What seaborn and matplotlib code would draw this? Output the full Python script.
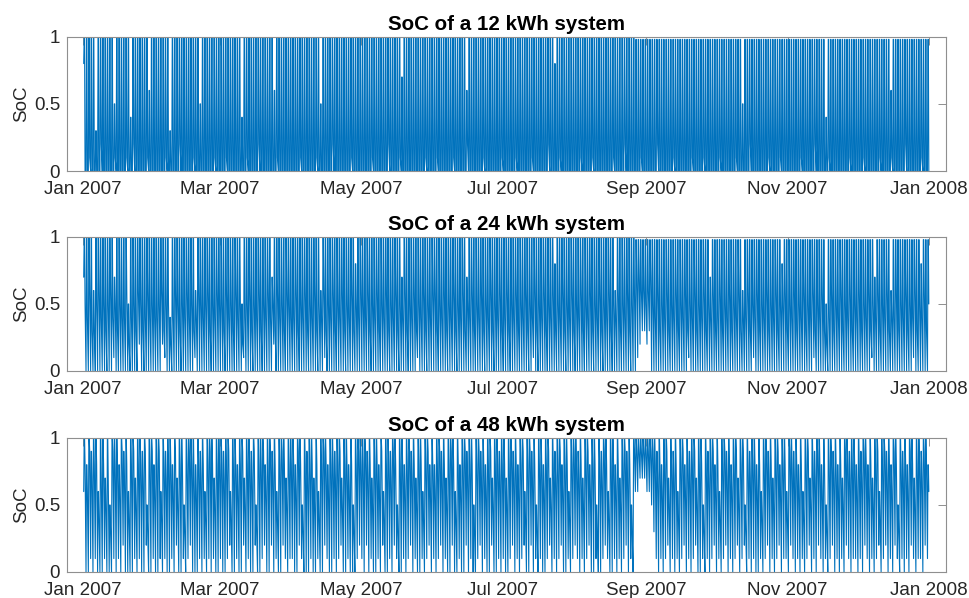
import numpy as np
import pandas as pd
import matplotlib
matplotlib.use("Agg")
import matplotlib.pyplot as plt
import matplotlib.dates as mdates
import seaborn as sns

# Daily battery state of charge for 2007, one character per day, one string per month.
# '0'..'9' -> 0.0 .. 0.9, 'E' -> 0.98, 'F' -> 1.0
#   peak    : level reached by midday and held into the afternoon
#   evening : level at 21:00
#   morning : level at 07:00, before charging starts

peak_12 = [
    "FFFFF3FFFF FFF5FFFFFF 4FFFFFFF6F F",
    "FFFFFF3FFF FFFFFFFFF5 FFFFFFFF",
    "FFFFFFFFF4 FFFFFFFFFF FFF6FFFFFF F",
    "FFFFFFFFFF FF5FFFFFFF FFFFFFFFFF",
    "FFFFFFFFFF FFFFFFF7FF FFFFFFFFFF F",
    "FFFFFFFFFF FFFF6FFFFF FFFFFFFFFF",
    "FFFFFFFFFF FFFFFFFFFF FF8FFFFFFF F",
    "FFFFFFFFFF FFFFFFFFFF FFFFFFEEEE E",
    "EEEEEEEEEE EEEEEEEEEE EEEEEEEEEE",
    "EEEEEEEEEE E5EEEEEEEE EEEEEEEEEE E",
    "EEEEEEEEEE EEEEEE4EEE EEEEEEEEEE",
    "EEEEEEEEEE EEEE6EEEEE EEEEEEEEEE E",
]
evening_12 = [
    "0010000200 0001000010 0200000100 0",
    "0000100000 2000001000 00000100",
    "0010000000 0100002000 0000100000 0",
    "0001000000 1000000200 0000010000",
    "0000100000 0200001000 0000000100 0",
    "0100000010 0000200000 0100000001",
    "0000010000 0010000002 0000100000 0",
    "0010000100 0000001000 0200000010 0",
    "0000200000 0100000001 0000100000",
    "0100000010 0000200000 0010000100 0",
    "0000010000 0200000100 0000001000",
    "0010000001 0000100000 2000000100 0",
]
morning_12 = [
    "8000000000 0000000000 0000000000 0",
    "0000000000 0000000000 00000000",
    "0000000000 0000000000 0000000000 0",
    "0000000000 0000000000 0000000000",
    "0000000000 0000000000 0000000000 0",
    "0000000000 0000000000 0000000000",
    "0000000000 0000000000 0000000000 0",
    "0000000000 0000000000 0000000000 0",
    "0000000000 0000000000 0000000000",
    "0000000000 0000000000 0000000000 0",
    "0000000000 0000000000 0000000000",
    "0000000000 0000000000 0000000000 0",
]

peak_24 = [
    "FFFF6FFFFF FFF7FFFFF5 FFFFFFFFFF F",
    "FFFFFF4FFF FFFFFFF6FF FFFFFFFF",
    "FFFFFFFFF5 FFFFFFFFFF FF7FFFFFFF F",
    "FFFFFFFFFF FF6FFFFFFF FFFFFFF8FF",
    "FFFFFFFFFF FFFFFFF7FF FFFFFFFFFF F",
    "FFFFFFFFFF FFFF7FFFFF FFFFFFFFFF",
    "FFFFFFFFFF FFFFFFFFFF FF8FFFFFFF F",
    "FFFFFFFFFF FFFFFFF6FF FFFFFFEEEE E",
    "EEEEEEEEEE EEEEEEEEEE EEEEEEE7EE",
    "EEEEEEEEEE E6EEEEEEEE EEEEEEEE8E E",
    "EEEEEEEEEE EEEEEE5EEE EEEEEEEEEE",
    "EEEEEEE7EE EEEE6EEEEE EEEEEEE8EE E",
]
evening_24 = [
    "5463356453 5645354462 4536534645 4",
    "4563552465 3546453465 45635465",
    "5364536452 4563546354 6453645365 4",
    "4635463546 3546354635 4635463546",
    "5463546354 6354635463 5463546354 6",
    "6354635463 5463546354 6354635463",
    "4635463546 3546354635 4635463546 3",
    "5463546354 6354635463 5463567766 5",
    "6754635463 5463546354 6354635463",
    "4635463546 3446354635 4635463556 3",
    "5463546354 6354632463 5463546354",
    "6354635463 5463446354 6354635463 5",
]
morning_24 = [
    "7000000000 0001000000 0000200000 0",
    "0002100000 0000000100 00000000",
    "0000000000 1000000000 0002000000 0",
    "0000000000 0000100000 0000000000",
    "0000000000 0000000000 0000100000 0",
    "0000000000 0000000000 0000000000",
    "0000000000 0001000000 0000000000 0",
    "0000000000 0000000000 0000000123 3",
    "2300000000 0000000010 0000000000",
    "0000000000 0000001000 0000000000 0",
    "0000000000 0100000000 0000000000",
    "0000001000 0000000000 0000100000 0",
]

peak_48 = [
    "F8F9FF6FF7 F5FFF8F9F6 FF7FF9F5FF 8",
    "FF6F9FF8F7 FF5FFFF8F9 F6FFF7FF",
    "F9FF6FF8FF 7FF9F5FFF8 FF9F6FFF7F F",
    "F8FF5F9FF7 F6FFF8FF9F F7FF8F5FFF",
    "FF9F7FF8F6 FF9FF5FF8F F9F7FF6FF8 F",
    "8FF9F7FFF6 F8FF9FF5FF 9F8FF7FF9F",
    "F7FF9F8FF6 FF9F5FF8FF 7F9FF8FF6F F",
    "F9F7FF8FF5 F9FF6FF8F7 FF9F5FFFFF F",
    "FFFF9F8FF7 F9F6FF8F9F F7FF5F9FF8",
    "F6FF9F8FF7 FF5F9FF8F6 FF9F7FF8FF 6",
    "FF9F8F6FF7 F9FF8F5FF9 F8F7FF9FF8",
    "F9FF8F7FF6 FF9F8FF5F9 F8FF7FF9FF 8",
]
evening_48 = [
    "8697884785 7398869784 8958879389 6",
    "8948788695 8838987687 84898588",
    "8789488689 5887938896 8978489858 8",
    "8698387885 8489868878 9588683898",
    "8978588694 8879838868 9785884896 8",
    "6897858984 8689788389 7868958878",
    "8589786894 8978388689 5878968848 9",
    "8785896883 8798488685 8978399999 9",
    "9998786895 8784896878 9588387896",
    "8489786895 8938788684 8978589688 4",
    "9878684895 8798683897 8685987886",
    "8798685894 8978698387 8698588798 6",
]
morning_48 = [
    "6001010001 0001010200 0010100200 1",
    "0010100102 0010120001 01010100",
    "1001200100 2010020012 0020100210 1",
    "1002100010 0100210010 1200100012",
    "1020100102 0010210010 1201001012 0",
    "1012010020 0100201001 2010020010",
    "1001201012 0020101001 2010120010 1",
    "2101012001 0012100101 0120106677 7",
    "6653101012 0101012010 1200101012",
    "0101201012 0120101001 0120101201 1",
    "0210101012 0102101012 0101021011",
    "0102101012 0120102101 0102101102 1",
]

capacities = [12, 24, 48]
profiles = [
    (peak_12, evening_12, morning_12),
    (peak_24, evening_24, morning_24),
    (peak_48, evening_48, morning_48),
]

LEVEL = {str(i): i / 10 for i in range(10)}
LEVEL["E"] = 0.98
LEVEL["F"] = 1.0

# Hours of the day at which each daily level applies:
# morning low, end of charging, start of discharge, evening.
SCHEDULE = [("morning", 7), ("peak", 12), ("peak", 16), ("evening", 21)]


def decode(months):
    return np.array([LEVEL[c] for c in "".join("".join(m.split()) for m in months)])


def soc_frame(peak, evening, morning, start="2007-01-01"):
    levels = {"peak": decode(peak), "evening": decode(evening), "morning": decode(morning)}
    n = min(len(v) for v in levels.values())
    days = pd.date_range(start, periods=n, freq="D")
    times, soc = [], []
    for i, day in enumerate(days):
        for key, hour in SCHEDULE:
            times.append(day + pd.Timedelta(hours=hour))
            soc.append(levels[key][i])
    return pd.DataFrame({"time": times, "SoC": soc})


sns.set_style("white")
plt.rcParams["font.family"] = ["Liberation Sans", "DejaVu Sans"]

LINE = "#0072BD"
FRAME = "#8f8f8f"
TEXT = "#262626"

fig = plt.figure(figsize=(9.70, 5.98), dpi=100)
positions = [
    (0.0691, 0.7140, 0.9062, 0.2246),
    (0.0691, 0.3796, 0.9062, 0.2241),
    (0.0691, 0.0435, 0.9062, 0.2241),
]

x0 = pd.Timestamp("2007-01-01") - pd.Timedelta(days=6.9)
x1 = pd.Timestamp("2007-01-01") + pd.Timedelta(days=372.3)

for cap, prof, pos in zip(capacities, profiles, positions):
    ax = fig.add_axes(pos)
    df = soc_frame(*prof)
    sns.lineplot(data=df, x="time", y="SoC", ax=ax, color=LINE,
                 linewidth=0.8, estimator=None, errorbar=None)
    ax.set_xlim(x0, x1)
    ax.set_ylim(0, 1)
    ax.set_yticks([0, 0.5, 1])
    ax.set_yticklabels(["0", "0.5", "1"])
    ax.xaxis.set_major_locator(mdates.MonthLocator(bymonth=[1, 3, 5, 7, 9, 11]))
    ax.xaxis.set_major_formatter(mdates.DateFormatter("%b %Y"))
    ax.set_xlabel("")
    ax.set_ylabel("SoC", fontsize=13.5, color=TEXT, labelpad=3)
    ax.set_title(f"SoC of a {cap} kWh system", fontsize=14.8,
                 fontweight="bold", color="black", pad=5)
    ax.tick_params(axis="both", direction="in", length=5.5, width=0.7,
                   color=FRAME, labelcolor=TEXT, labelsize=13.5,
                   top=True, right=True, pad=5)
    ax.tick_params(axis="x", pad=7.5)
    for sp in ax.spines.values():
        sp.set_visible(True)
        sp.set_color(FRAME)
        sp.set_linewidth(0.8)
    ax.grid(False)

fig.savefig("out.png", dpi=100, facecolor="white")
